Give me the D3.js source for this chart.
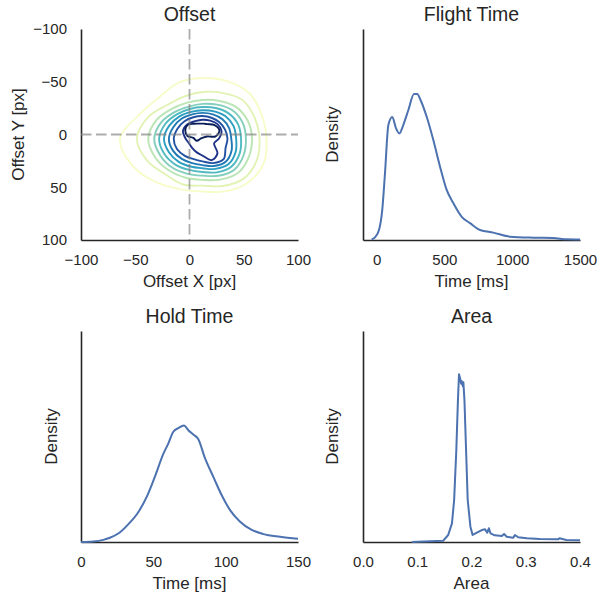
<!DOCTYPE html>
<html>
<head>
<meta charset="utf-8">
<script src="https://cdn.jsdelivr.net/npm/d3@7"></script>
<style>
  body { margin: 0; background: #fff; }
  svg text { font-family: "Liberation Sans", Arial, sans-serif; fill: #262626; }
</style>
</head>
<body>
<svg id="chart"></svg>
<script>
// values
var offsetTicks = [-100, -50, 0, 50, 100];
var flightTicks = [0, 500, 1000, 1500];
var holdTicks = [0, 50, 100, 150];
var areaTicks = [0, 0.1, 0.2, 0.3, 0.4];

var flightMs = [-36, -12, 18, 42, 62, 87, 116, 143, 168, 197, 234, 276, 300, 325, 369, 418, 468, 517, 566, 628, 689, 763, 861, 984, 1156, 1303, 1402, 1500];
var flightDensity = [0.01, 0.05, 0.19, 0.57, 1.26, 2.18, 2.33, 2.12, 2.02, 2.18, 2.46, 2.77, 2.77, 2.65, 2.34, 1.9, 1.39, 0.95, 0.7, 0.44, 0.32, 0.19, 0.14, 0.063, 0.044, 0.038, 0.013, 0.01];

var holdMs = [0, 8.5, 15.4, 20, 26, 32.8, 39.7, 45.5, 51.1, 56.9, 60.4, 63.8, 67.3, 71.2, 74.2, 77.6, 81.1, 85.7, 91.4, 97.2, 102.9, 109.8, 118, 126, 137.6, 150];
var holdDensity = [0, 0.01, 0.04, 0.08, 0.165, 0.34, 0.57, 0.86, 1.24, 1.67, 1.87, 2.09, 2.16, 2.21, 2.12, 2.04, 1.95, 1.59, 1.24, 0.89, 0.61, 0.39, 0.23, 0.15, 0.1, 0.063];

var areaValues = [0.09, 0.148, 0.157, 0.164, 0.168, 0.172, 0.175, 0.177, 0.179, 0.181, 0.182, 0.184, 0.185, 0.187, 0.19, 0.193, 0.198, 0.202, 0.21, 0.219, 0.225, 0.229, 0.232, 0.235, 0.243, 0.256, 0.26, 0.265, 0.277, 0.28, 0.286, 0.302, 0.326, 0.36, 0.362, 0.375, 0.4];
var areaDensity = [0, 0.25, 1.33, 3.54, 7.96, 17.4, 26.9, 31.8, 31.0, 30.0, 30.5, 29.5, 30.3, 26.9, 17.4, 7.96, 2.9, 1.33, 1.77, 2.27, 2.4, 1.77, 2.6, 1.64, 1.27, 1.14, 1.52, 1.0, 0.82, 1.33, 0.89, 0.7, 0.57, 0.51, 0.7, 0.38, 0.32];

// offset contours: centre [x, y] and radius (px units) at each angle, outermost level first
var contourAngles = [0, 22.5, 45, 67.5, 90, 112.5, 135, 157.5, 180, 202.5, 225, 247.5, 270, 292.5, 315, 337.5];
var contourCenters = [[12, 4], [12, 4], [12, 4], [12, 4], [12, 4], [12, 4], [12, 4], [12, 4], [12, 4], [10.6, -3.8]];
var contourRadii = [
  [59, 61, 59, 54, 50, 52, 59, 69, 76, 62, 56, 57.5, 57.5, 59, 61, 59],
  [52.5, 54, 53.5, 48.5, 44.5, 47, 48, 55, 60.5, 54, 45.5, 43.5, 44.3, 47, 52, 52],
  [45.6, 46, 46, 42, 39, 40, 43, 47, 50, 46, 40, 37, 36.7, 39, 43, 45],
  [40, 41, 41.5, 38, 35, 36, 39, 42, 44.5, 41, 36, 33, 33, 35, 38.5, 40],
  [35.5, 37, 37.5, 34.5, 31.5, 32, 35, 38, 40, 37, 33, 30.5, 30, 31.5, 34, 35.5],
  [31, 33, 34, 31, 28, 28.5, 31, 33.5, 35.5, 33, 30, 27.5, 27, 28, 30, 31],
  [26.5, 29, 30.5, 28, 25, 25, 27, 29.5, 31, 29, 27, 25, 24.5, 25, 26, 26.5],
  [23, 23, 27.5, 25, 21.5, 21, 23, 25.5, 26.5, 25, 23.5, 22, 21.5, 21.5, 22, 22.5],
  [15, 11.5, 19.5, 22, 16, 14, 13, 13, 15.5, 19.5, 19.5, 18, 18, 18.5, 19.5, 19],
  [17, 14.5, 8, 7, 7.5, 10.5, 10, 13.5, 14.5, 13.5, 9, 7, 6.5, 7, 8.5, 13.5]
];

var width = 598;
var height = 596;
var ink = "#262626";
var blue = "#4c72b0";

var svg = d3.select("#chart").attr("width", width).attr("height", height);

// draws the two spines, tick labels, title and axis labels of one panel
var axes = (x, y, xTicks, xFormat, showYTicks, title, xLabel, yLabel, yLabelX) => {
  var left = x.range()[0];
  var right = x.range()[1];
  var top = d3.min(y.range());
  var bottom = d3.max(y.range());
  var g = svg.append("g");

  var xAxis = d3.axisBottom(x).tickValues(xTicks).tickFormat(xFormat).tickSize(0).tickSizeOuter(0).tickPadding(14.5);
  var gx = g.append("g").attr("transform", "translate(0," + bottom + ")").call(xAxis);

  var yAxis = d3.axisLeft(y).tickSize(0).tickSizeOuter(0).tickPadding(14);
  if (showYTicks) {
    yAxis.tickValues(offsetTicks).tickFormat(d3.format("d"));
  } else {
    yAxis.tickValues([]);
  }
  var gy = g.append("g").attr("transform", "translate(" + left + ",0)").call(yAxis);

  [gx, gy].forEach((a) => {
    a.select(".domain").attr("stroke", ink).attr("stroke-width", 1.6);
    a.selectAll("text").style("font-size", "15px").attr("fill", ink);
    a.attr("font-family", null).attr("font-size", null);
  });

  g.append("text")
    .attr("x", (left + right) / 2)
    .attr("y", top - 8.5)
    .attr("text-anchor", "middle")
    .style("font-size", "19.5px")
    .text(title);

  g.append("text")
    .attr("x", (left + right) / 2)
    .attr("y", bottom + 46.5)
    .attr("text-anchor", "middle")
    .style("font-size", "17px")
    .text(xLabel);

  g.append("text")
    .attr("transform", "translate(" + yLabelX + "," + (top + bottom) / 2 + ") rotate(-90)")
    .attr("text-anchor", "middle")
    .style("font-size", "17px")
    .text(yLabel);

  return g;
};

var densityLine = (g, x, y, xs, ys, curve) => {
  var line = d3.line()
    .x((d) => x(d[0]))
    .y((d) => y(d[1]))
    .curve(curve);
  g.append("path")
    .attr("d", line(d3.zip(xs, ys)))
    .attr("fill", "none")
    .attr("stroke", blue)
    .attr("stroke-width", 2)
    .attr("stroke-linejoin", "round");
};

// Offset (top left)
var offX = d3.scaleLinear().domain([-100, 100]).range([81, 298]);
var offY = d3.scaleLinear().domain([-100, 100]).range([29, 240]);
var gOff = axes(offX, offY, offsetTicks, d3.format("d"), true, "Offset", "Offset X [px]", "Offset Y [px]", 24);

var levelColor = d3.scaleSequential(d3.interpolateYlGnBu).domain([-0.5, contourRadii.length - 1]);
var contourLine = d3.line()
  .x((d) => offX(d[0]))
  .y((d) => offY(d[1]))
  .curve(d3.curveCatmullRomClosed);

contourRadii.forEach((radii, i) => {
  var c = contourCenters[i];
  var pts = radii.map((r, j) => {
    var a = contourAngles[j] * Math.PI / 180;
    return [c[0] + r * Math.cos(a), c[1] + r * Math.sin(a)];
  });
  gOff.append("path")
    .attr("d", contourLine(pts))
    .attr("fill", "none")
    .attr("stroke", levelColor(i))
    .attr("stroke-width", 1.9);
});

gOff.append("line")
  .attr("x1", offX(0)).attr("x2", offX(0))
  .attr("y1", offY(-100)).attr("y2", offY(100))
  .attr("stroke", "#808080").attr("stroke-opacity", 0.65)
  .attr("stroke-width", 1.8).attr("stroke-dasharray", "10.5,4.5");
gOff.append("line")
  .attr("x1", offX(-100)).attr("x2", offX(100))
  .attr("y1", offY(0)).attr("y2", offY(0))
  .attr("stroke", "#808080").attr("stroke-opacity", 0.65)
  .attr("stroke-width", 1.8).attr("stroke-dasharray", "10.5,4.5");

// Flight Time (top right)
var flX = d3.scaleLinear().domain([-100, 1500]).range([363, 580]);
var flY = d3.scaleLinear().domain([0, 4]).range([240, 29]);
var gFl = axes(flX, flY, flightTicks, d3.format("d"), false, "Flight Time", "Time [ms]", "Density", 338);
densityLine(gFl, flX, flY, flightMs, flightDensity, d3.curveMonotoneX);

// Hold Time (bottom left)
var hoX = d3.scaleLinear().domain([0, 150]).range([81, 298]);
var hoY = d3.scaleLinear().domain([0, 4]).range([542, 331]);
var gHo = axes(hoX, hoY, holdTicks, d3.format("d"), false, "Hold Time", "Time [ms]", "Density", 56.5);
densityLine(gHo, hoX, hoY, holdMs, holdDensity, d3.curveMonotoneX);

// Area (bottom right)
var arX = d3.scaleLinear().domain([0, 0.4]).range([363, 580]);
var arY = d3.scaleLinear().domain([0, 40]).range([542, 331]);
var gAr = axes(arX, arY, areaTicks, d3.format(".1f"), false, "Area", "Area", "Density", 338);
densityLine(gAr, arX, arY, areaValues, areaDensity, d3.curveLinear);
</script>
</body>
</html>
